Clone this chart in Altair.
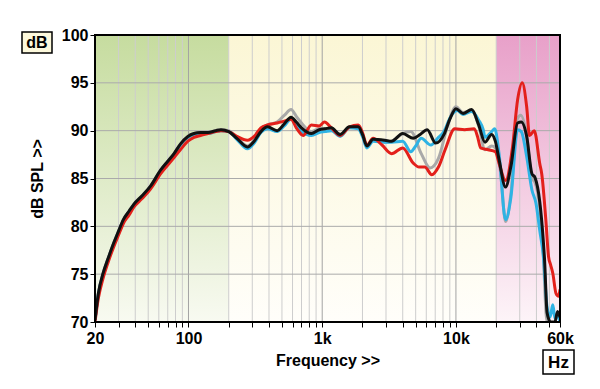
import altair as alt
import pandas as pd

# ---------------- data ----------------
freq_black = [20, 21.2, 23, 25, 27.5, 30, 32.6, 36, 39, 45, 52, 62, 70, 78, 87, 99, 110, 123, 140, 160, 175, 200,
              230, 276, 310, 348, 390, 460, 520, 585, 640, 700, 830, 950, 1050, 1170, 1360, 1600, 1860, 2000, 2160,
              2400, 2940, 3300, 4000, 4800, 5400, 6100, 7050, 8200, 9000, 10000, 11300, 13100, 14800, 16500, 18500,
              19700, 21000, 23500, 25800, 28900, 30800, 33800, 37000, 39000, 42400, 45000, 46000, 48000, 51000,
              55000, 57500, 60000]
db_black = [70.2, 73.0, 75.1, 76.6, 78.2, 79.5, 80.7, 81.6, 82.3, 83.2, 84.2, 85.9, 86.8, 87.6, 88.6, 89.4, 89.7,
            89.8, 89.8, 90.0, 90.1, 89.9, 89.2, 88.3, 88.9, 89.9, 90.4, 90.0, 90.7, 91.4, 90.9, 90.3, 89.7, 90.1,
            90.2, 90.3, 89.6, 90.4, 90.4, 89.6, 88.4, 89.1, 89.0, 88.9, 89.7, 89.2, 89.6, 90.1, 88.7, 89.7, 91.2,
            92.3, 91.8, 92.2, 90.6, 88.8, 89.6, 88.9, 87.0, 84.1, 86.3, 90.8, 90.9, 89.4, 85.5, 85.1, 82.5, 78.5,
            76.5, 71.0, 70.0, 70.0, 71.1, 70.5]

freq_blue = [20, 21.2, 23, 25, 27.5, 30, 32.6, 36, 39, 45, 52, 62, 70, 78, 87, 99, 110, 123, 140, 160, 175, 200,
             230, 276, 310, 348, 390, 460, 520, 585, 640, 700, 830, 950, 1050, 1170, 1360, 1600, 1860, 2000, 2160,
             2400, 2940, 3300, 4000, 4600, 5000, 5500, 6500, 7300, 8200, 9000, 10200, 11300, 13100, 14800, 16000,
             16500, 18500, 19500, 21000, 23500, 25800, 28900, 30800, 33800, 37000, 39700, 42400, 45000, 48000,
             50500, 53000, 55000, 57500, 60000]
db_blue = [70.1, 72.9, 75.0, 76.5, 78.1, 79.4, 80.6, 81.5, 82.2, 83.1, 84.1, 85.8, 86.7, 87.5, 88.5, 89.3, 89.6,
           89.7, 89.7, 89.9, 90.0, 89.9, 89.1, 88.1, 88.7, 89.8, 90.2, 89.9, 90.5, 91.2, 90.6, 89.9, 89.5, 89.8,
           89.9, 90.0, 89.4, 90.3, 90.2, 89.4, 88.2, 88.9, 88.8, 88.8, 88.9, 87.8, 88.4, 89.2, 88.5, 89.2, 90.0,
           91.3, 92.1, 91.7, 92.0, 91.1, 90.1, 89.3, 89.9, 90.2, 87.6, 80.7, 83.1, 90.1, 89.9, 87.3, 83.8, 82.4,
           79.5, 77.0, 71.6, 70.5, 71.8, 70.4, 70.6, 70.0]

freq_red = [20, 21.2, 23, 25, 27.5, 30, 32.6, 36, 39, 45, 52, 62, 70, 78, 87, 99, 110, 123, 140, 160, 175, 200,
            230, 276, 310, 348, 390, 460, 520, 585, 640, 720, 830, 950, 1040, 1170, 1360, 1600, 1860, 2000, 2160,
            2400, 2800, 3300, 4000, 4800, 5300, 5850, 6600, 7400, 8300, 9800, 11600, 13700, 14500, 15300, 17400,
            19700, 21000, 23500, 26500, 28900, 31300, 33800, 35500, 38500, 42400, 43800, 47000, 49300, 51000,
            53000, 56000, 58600, 60000]
db_red = [70.0, 72.5, 74.6, 76.2, 77.8, 79.1, 80.3, 81.2, 82.0, 82.9, 83.9, 85.5, 86.4, 87.2, 88.0, 88.9, 89.3,
          89.5, 89.7, 89.9, 90.0, 89.9, 89.4, 89.0, 89.4, 90.3, 90.6, 90.8, 91.0, 91.2, 90.3, 89.5, 90.6, 90.5,
          90.9, 90.3, 89.5, 90.4, 90.6, 89.8, 88.5, 89.2, 88.5, 87.6, 88.2, 86.6, 86.2, 86.2, 85.4, 86.2, 88.0,
          90.2, 90.1, 90.2, 89.4, 88.2, 88.0, 87.8, 86.6, 84.8, 88.3, 93.2, 95.0, 92.5, 89.5, 90.0, 86.5, 85.5,
          80.7, 76.8, 76.0, 75.1, 73.0, 72.7, 73.4]

freq_gray = [20, 21.2, 23, 25, 27.5, 30, 32.6, 36, 39, 45, 52, 62, 70, 78, 87, 99, 110, 123, 140, 160, 175, 200,
             230, 276, 310, 348, 390, 460, 520, 585, 640, 700, 830, 950, 1050, 1170, 1360, 1600, 1860, 2000, 2160,
             2400, 2940, 3300, 4000, 4600, 5500, 6400, 7400, 8700, 10000, 11300, 13100, 14800, 16500, 18500,
             19700, 21500, 23500, 25800, 28900, 30500, 33800, 37000, 39000, 42400, 45000, 47500, 50000, 60000]
db_gray = [70.2, 73.0, 75.1, 76.6, 78.2, 79.5, 80.7, 81.6, 82.3, 83.2, 84.2, 85.9, 86.8, 87.6, 88.6, 89.4, 89.7,
           89.8, 89.8, 90.0, 90.1, 90.0, 89.3, 88.4, 89.0, 90.2, 90.6, 90.9, 91.6, 92.2, 91.5, 90.8, 89.9, 90.2,
           90.2, 90.2, 89.6, 90.3, 90.3, 89.5, 88.4, 89.0, 88.8, 88.9, 89.7, 89.9, 87.6, 86.1, 87.1, 90.6, 92.5,
           91.9, 92.1, 90.5, 88.0, 88.4, 88.2, 85.8, 80.5, 83.5, 91.3, 91.6, 89.5, 85.0, 84.6, 82.0, 77.0, 70.5,
           69.5, 69.5]

band_start = [20, 200, 20000]
band_end = [200, 20000, 60000]
band_top = ["#c6dc9f", "#fbf6d5", "#e8a0c9"]
band_bottom = ["#f8faf1", "#fffefa", "#fdf4f8"]

x_ticks = [20, 30, 40, 50, 60, 70, 80, 90, 100, 200, 300, 400, 500, 600, 700, 800, 900, 1000, 2000, 3000, 4000,
           5000, 6000, 7000, 8000, 9000, 10000, 20000, 30000, 40000, 50000, 60000]
minor_grid = [30, 40, 50, 60, 70, 80, 90, 200, 300, 400, 500, 600, 700, 800, 900, 2000, 3000, 4000, 5000, 6000,
              7000, 8000, 9000, 20000, 30000, 40000, 50000]
major_grid = [100, 1000, 10000]
y_ticks = [70, 75, 80, 85, 90, 95, 100]
y_grid = [75, 80, 85, 90, 95]
x_domain = [20, 60000]
y_domain = [70, 100]

FONT = "Liberation Sans"

x_scale = alt.Scale(type="log", domain=x_domain, nice=False)
y_scale = alt.Scale(domain=y_domain, nice=False)

x_axis = alt.Axis(
    values=x_ticks,
    labelExpr="datum.value == 20 ? '20' : datum.value == 100 ? '100' : datum.value == 1000 ? '1k' : "
              "datum.value == 10000 ? '10k' : datum.value == 60000 ? '60k' : ''",
    title="Frequency >>", grid=False, domain=False, tickSize=5, tickColor="black", tickWidth=1,
    labelFont=FONT, labelFontSize=16, labelFontWeight="bold", labelColor="black", labelFlush=False,
    labelOverlap=False, labelPadding=3, titleFont=FONT, titleFontSize=16, titleFontWeight="bold",
    titleColor="black", titlePadding=6,
)
y_axis = alt.Axis(
    values=y_ticks, title="dB SPL >>", grid=False, domain=False, tickSize=5, tickColor="black", tickWidth=1,
    labelFont=FONT, labelFontSize=16, labelFontWeight="bold", labelColor="black", labelPadding=2,
    titleFont=FONT, titleFontSize=16, titleFontWeight="bold", titleColor="black", titlePadding=16,
)


def X(field):
    return alt.X(field, type="quantitative", scale=x_scale, axis=x_axis)


def Y(field):
    return alt.Y(field, type="quantitative", scale=y_scale, axis=y_axis)


layers = []

# background bands
for i in range(len(band_start)):
    df = pd.DataFrame({"f0": [band_start[i]], "f1": [band_end[i]], "d0": [y_domain[0]], "d1": [y_domain[1]]})
    grad = alt.Gradient(gradient="linear", x1=0, x2=0, y1=0, y2=1,
                        stops=[alt.GradientStop(color=band_top[i], offset=0),
                               alt.GradientStop(color=band_bottom[i], offset=1)])
    layers.append(alt.Chart(df).mark_rect(color=grad).encode(
        x=X("f0"), x2="f1", y=Y("d0"), y2="d1"))

# grid
layers.append(alt.Chart(pd.DataFrame({"freq": minor_grid})).mark_rule(color="#cdcdcd", strokeWidth=1).encode(
    x=X("freq")))
layers.append(alt.Chart(pd.DataFrame({"freq": major_grid})).mark_rule(color="#a3a3a3", strokeWidth=1).encode(
    x=X("freq")))
layers.append(alt.Chart(pd.DataFrame({"db": y_grid})).mark_rule(color="#aaaaaa", strokeWidth=1).encode(
    y=Y("db")))

# curves
series = [
    (freq_gray, db_gray, "#a9a9a9", 3),
    (freq_blue, db_blue, "#2fb3e4", 3),
    (freq_red, db_red, "#e3201b", 3),
    (freq_black, db_black, "#111111", 3),
]
for f, v, c, w in series:
    df = pd.DataFrame({"freq": f, "db": v})
    layers.append(alt.Chart(df).mark_line(color=c, strokeWidth=w, interpolate="monotone", clip=True).encode(
        x=X("freq"), y=Y("db")))

# frame
frame_df = pd.DataFrame({"f0": [x_domain[0]], "f1": [x_domain[1]], "d0": [y_domain[0]], "d1": [y_domain[1]]})
layers.append(alt.Chart(frame_df).mark_rect(filled=False, stroke="black", strokeWidth=2).encode(
    x=X("f0"), x2="f1", y=Y("d0"), y2="d1"))

# unit boxes
unit_labels = ["dB", "Hz"]
box_df = pd.DataFrame({"label": [unit_labels[0]]})
layers.append(alt.Chart(box_df).mark_rect(fill="#fdf9dc", stroke="black", strokeWidth=1.5).encode(
    x=alt.value(-73), x2=alt.value(-43), y=alt.value(-3), y2=alt.value(18)))
layers.append(alt.Chart(box_df).mark_text(font=FONT, fontSize=16, fontWeight="bold", color="black",
                                           align="center", baseline="middle").encode(
    x=alt.value(-58), y=alt.value(8), text="label:N"))
hz_df = pd.DataFrame({"label": [unit_labels[1]]})
layers.append(alt.Chart(hz_df).mark_rect(fill="white", stroke="black", strokeWidth=1.5).encode(
    x=alt.value(448), x2=alt.value(479), y=alt.value(315), y2=alt.value(339)))
layers.append(alt.Chart(hz_df).mark_text(font=FONT, fontSize=17, fontWeight="bold", color="black",
                                          align="center", baseline="middle").encode(
    x=alt.value(463.5), y=alt.value(327.5), text="label:N"))

chart = alt.layer(*layers).properties(
    width=465, height=287,
    padding={"left": 87, "top": 27, "right": 32, "bottom": 59},
    autosize=alt.AutoSizeParams(type="none"),
    background="white",
).configure_view(stroke=None)

chart.save("out.html", embed_options={"renderer": "svg", "actions": False})
